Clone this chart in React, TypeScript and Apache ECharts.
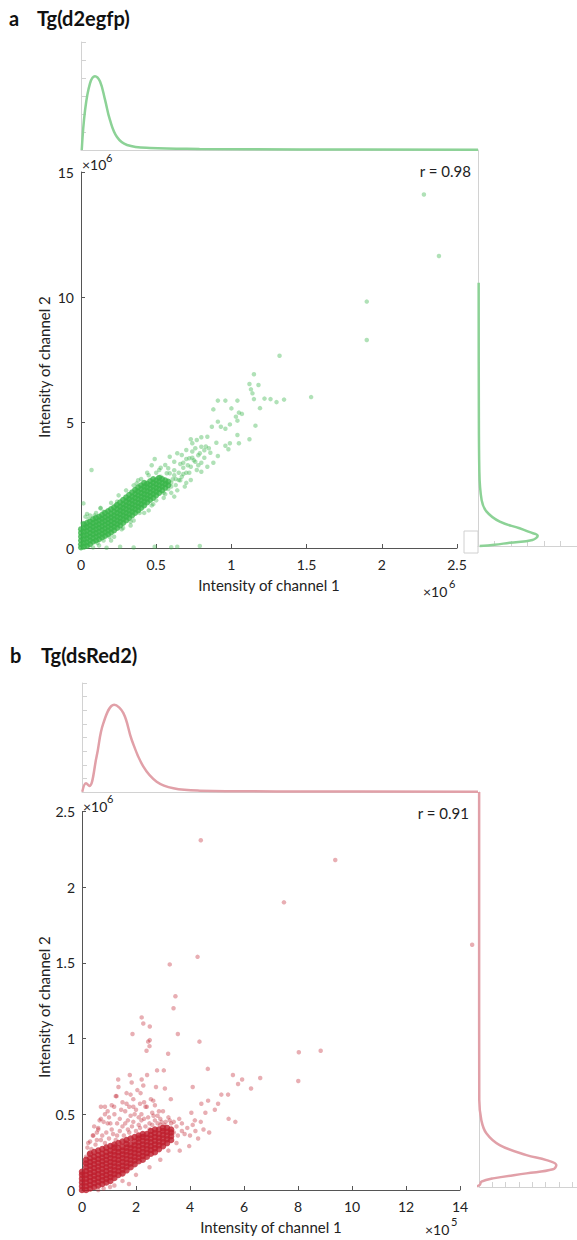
import React, { useEffect, useRef } from 'react';
import * as echarts from 'echarts';

// ---------- Panel a: Tg(d2egfp) ----------
const titleA = 'Tg(d2egfp)';
const rA = 'r = 0.98';
const xTicksA = [0, 0.5, 1, 1.5, 2, 2.5];
const yTicksA = [0, 5, 10, 15];
// top density (x in 1e6, density)
const greenTopDensity: number[][] = [
  [0.005, 0], [0.027, 2.2], [0.06, 3.7], [0.093, 4.1], [0.127, 3.8], [0.16, 2.8],
  [0.193, 1.67], [0.24, 0.72], [0.307, 0.28], [0.46, 0.11], [0.79, 0.06], [1.46, 0.03], [2.647, 0.01],
];
// right density (density, y in 1e6)
const greenRightDensity: number[][] = [
  [0.1, 0], [1.0, 0.05], [1.92, 0.13], [3.3, 0.24], [3.62, 0.41], [3.1, 0.56], [2.52, 0.71],
  [1.32, 0.97], [0.52, 1.37], [0.22, 1.83], [0.08, 3.03], [0.05, 5.8], [0.04, 10.5],
];
// dense core columns: [x, y-values]
const greenCoreCols: [number, number[]][] = [
  [0.0, [0.02, 0.15, 0.3, 0.45, 0.6, 0.75]],
  [0.02, [0.05, 0.2, 0.35, 0.5, 0.65, 0.8, 0.95]],
  [0.04, [0.08, 0.22, 0.38, 0.52, 0.68, 0.84, 1.0]],
  [0.06, [0.15, 0.3, 0.45, 0.6, 0.75, 0.9, 1.05]],
  [0.08, [0.25, 0.4, 0.55, 0.7, 0.85, 1.0, 1.15]],
  [0.1, [0.3, 0.45, 0.6, 0.75, 0.9, 1.05, 1.2]],
  [0.12, [0.35, 0.5, 0.65, 0.8, 0.95, 1.1, 1.25]],
  [0.14, [0.42, 0.57, 0.72, 0.87, 1.02, 1.17, 1.32]],
  [0.16, [0.48, 0.63, 0.78, 0.93, 1.08, 1.23, 1.4]],
  [0.18, [0.55, 0.7, 0.85, 1.0, 1.15, 1.3, 1.47]],
  [0.2, [0.62, 0.77, 0.92, 1.07, 1.22, 1.37, 1.55]],
  [0.22, [0.7, 0.85, 1.0, 1.15, 1.3, 1.45, 1.62]],
  [0.24, [0.8, 0.95, 1.1, 1.25, 1.4, 1.55, 1.72]],
  [0.26, [0.9, 1.05, 1.2, 1.35, 1.5, 1.65, 1.82]],
  [0.28, [1.0, 1.15, 1.3, 1.45, 1.6, 1.75, 1.92]],
  [0.3, [1.1, 1.25, 1.4, 1.55, 1.7, 1.85, 2.02]],
  [0.32, [1.2, 1.35, 1.5, 1.65, 1.8, 1.95, 2.12]],
  [0.34, [1.3, 1.45, 1.6, 1.75, 1.9, 2.05, 2.22]],
  [0.36, [1.4, 1.55, 1.7, 1.85, 2.0, 2.15, 2.32]],
  [0.38, [1.5, 1.65, 1.8, 1.95, 2.1, 2.25, 2.42]],
  [0.4, [1.6, 1.75, 1.9, 2.05, 2.2, 2.35, 2.5]],
  [0.42, [1.7, 1.85, 2.0, 2.15, 2.3, 2.45, 2.6]],
  [0.44, [1.82, 1.97, 2.12, 2.27, 2.42, 2.57]],
  [0.46, [1.92, 2.07, 2.22, 2.37, 2.52, 2.67]],
  [0.48, [2.0, 2.15, 2.3, 2.45, 2.6, 2.75]],
  [0.5, [2.1, 2.25, 2.4, 2.55, 2.7]],
  [0.52, [2.2, 2.35, 2.5, 2.65, 2.8]],
  [0.54, [2.3, 2.45, 2.6, 2.75]],
  [0.56, [2.4, 2.55, 2.7]],
  [0.58, [2.5, 2.65]],
];
const greenSpread: number[][] = [
  [2.28, 14.1], [2.38, 11.65], [1.9, 9.83], [1.9, 8.3], [1.32, 7.67], [1.15, 6.93], [1.12, 6.54],
  [1.18, 6.5], [1.13, 6.33], [1.14, 6.17], [1.15, 5.94], [1.22, 5.96], [1.26, 5.94], [1.3, 5.82],
  [1.35, 5.92], [1.53, 6.02], [1.19, 5.58], [1.16, 4.88], [1.12, 4.34], [1.04, 5.88], [0.96, 5.88],
  [0.91, 5.88], [0.88, 5.53], [1.0, 5.57], [1.05, 5.4], [1.07, 5.35], [1.03, 5.24], [1.04, 5.08],
  [0.99, 4.93], [0.93, 4.84], [0.91, 5.04], [0.87, 4.84], [0.96, 4.76], [1.04, 4.51], [1.05, 4.18],
  [0.99, 4.18], [0.96, 4.08], [0.98, 3.94], [0.91, 3.67], [0.88, 3.4], [0.85, 3.98], [0.8, 4.42],
  [0.77, 4.31], [0.73, 4.34], [0.74, 4.18], [0.84, 4.44], [0.8, 4.04], [0.76, 3.98], [0.79, 3.78],
  [0.84, 3.24], [0.8, 3.4], [0.76, 3.44], [0.7, 3.91], [0.67, 3.71], [0.72, 3.58], [0.68, 3.4],
  [0.73, 3.24], [0.77, 3.11], [0.8, 3.04], [0.7, 3.0], [0.67, 2.84], [0.73, 2.71], [0.65, 2.71],
  [0.63, 2.51], [0.69, 2.45], [0.62, 2.05], [0.58, 3.18], [0.62, 3.44], [0.59, 3.64], [0.64, 3.78],
  [0.57, 2.98], [0.53, 2.84], [0.56, 3.31], [0.52, 3.11], [0.59, 2.98], [0.61, 2.74],
  [0.07, 3.11], [0.016, 1.78], [0.04, 1.36], [0.13, 1.58], [0.24, 1.85], [0.37, 2.58], [0.49, 3.55],
  [0.49, 0.05], [0.64, 0.05], [0.79, 0.08], [0.26, 0.05], [0.17, 0.01],
  [0.1, 1.4], [0.13, 1.6], [0.2, 1.8], [0.25, 2.1], [0.3, 2.3], [0.35, 2.5], [0.4, 2.75], [0.45, 2.9],
  [0.5, 3.0], [0.15, 0.3], [0.22, 0.45], [0.28, 0.8], [0.35, 1.1], [0.42, 1.4], [0.48, 1.75],
  [0.55, 2.0], [0.6, 2.2], [0.12, 0.1], [0.08, 0.02], [0.2, 0.3], [0.03, 1.25], [0.06, 1.3],
  [0.01, 1.0], [0.33, 0.9], [0.45, 1.5], [0.5, 1.9], [0.56, 2.15], [0.6, 2.45], [0.64, 2.3],
  [0.57, 2.6], [0.62, 2.9], [0.53, 3.2], [0.47, 3.3], [0.44, 3.0], [0.38, 2.7], [0.7, 2.6],
  [0.68, 3.2], [0.72, 3.0], [0.66, 2.7], [0.75, 3.5], [0.82, 3.6], [0.86, 3.8], [0.9, 4.2],
  [0.78, 3.7], [0.74, 3.85], [0.83, 4.05],
  [0.03, 0.9], [0.05, 1.15], [0.09, 1.3], [0.11, 0.2], [0.15, 1.45], [0.19, 0.45], [0.23, 1.7],
  [0.27, 0.75], [0.31, 1.95], [0.33, 1.05], [0.37, 2.3], [0.39, 1.4], [0.43, 2.55], [0.47, 1.7],
  [0.51, 2.8], [0.55, 2.2], [0.6, 2.6], [0.63, 2.75], [0.58, 2.35], [0.65, 3.0], [0.68, 2.95],
  [0.71, 3.3], [0.62, 3.1], [0.66, 3.35], [0.7, 3.55], [0.74, 3.6], [0.78, 3.3], [0.82, 3.9],
  [0.6, 0.03], [0.35, 0.02],
];

// ---------- Panel b: Tg(dsRed2) ----------
const titleB = 'Tg(dsRed2)';
const rB = 'r = 0.91';
const xTicksB = [0, 2, 4, 6, 8, 10, 12, 14];
const yTicksB = [0, 0.5, 1, 1.5, 2, 2.5];
const redTopDensity: number[][] = [
  [0.01, 0.02], [0.15, 0.64], [0.27, 0.44], [0.54, 2.6], [0.79, 5.05], [1.19, 6.4], [1.53, 5.79],
  [1.84, 3.82], [2.27, 1.86], [2.76, 0.76], [3.38, 0.27], [4.36, 0.1], [8.06, 0.04], [14.64, 0.02],
];
const redRightDensity: number[][] = [
  [-0.4, 0.0], [0.05, 0.013], [0.18, 0.035], [1.05, 0.057], [3.56, 0.09], [5.55, 0.117], [5.8, 0.145],
  [5.06, 0.178], [3.56, 0.211], [1.55, 0.277], [0.55, 0.355], [0.18, 0.44], [0.02, 0.575],
  [0.01, 1.5], [0.01, 2.61],
];
const redCoreCols: [number, number[]][] = [
  [0.0, [0.0, 0.025, 0.05, 0.075, 0.1, 0.12]],
  [0.15, [0.0, 0.025, 0.05, 0.075, 0.1, 0.125, 0.15, 0.175, 0.2]],
  [0.3, [0.01, 0.035, 0.06, 0.085, 0.11, 0.135, 0.16, 0.185, 0.21, 0.24]],
  [0.45, [0.02, 0.045, 0.07, 0.095, 0.12, 0.145, 0.17, 0.195, 0.22, 0.25]],
  [0.6, [0.03, 0.055, 0.08, 0.105, 0.13, 0.155, 0.18, 0.205, 0.23, 0.26]],
  [0.75, [0.04, 0.065, 0.09, 0.115, 0.14, 0.165, 0.19, 0.215, 0.24, 0.27]],
  [0.9, [0.05, 0.075, 0.1, 0.125, 0.15, 0.175, 0.2, 0.225, 0.25, 0.28]],
  [1.05, [0.06, 0.085, 0.11, 0.135, 0.16, 0.185, 0.21, 0.235, 0.26, 0.29]],
  [1.2, [0.08, 0.105, 0.13, 0.155, 0.18, 0.205, 0.23, 0.255, 0.28, 0.3]],
  [1.35, [0.1, 0.125, 0.15, 0.175, 0.2, 0.225, 0.25, 0.275, 0.31]],
  [1.5, [0.11, 0.135, 0.16, 0.185, 0.21, 0.235, 0.26, 0.285, 0.32]],
  [1.65, [0.13, 0.155, 0.18, 0.205, 0.23, 0.255, 0.28, 0.305, 0.33]],
  [1.8, [0.15, 0.175, 0.2, 0.225, 0.25, 0.275, 0.3, 0.34]],
  [1.95, [0.17, 0.195, 0.22, 0.245, 0.27, 0.295, 0.32, 0.35]],
  [2.1, [0.19, 0.215, 0.24, 0.265, 0.29, 0.315, 0.34, 0.36]],
  [2.25, [0.2, 0.225, 0.25, 0.275, 0.3, 0.325, 0.35, 0.37]],
  [2.4, [0.22, 0.245, 0.27, 0.295, 0.32, 0.345, 0.37]],
  [2.55, [0.24, 0.265, 0.29, 0.315, 0.34, 0.365, 0.39]],
  [2.7, [0.25, 0.275, 0.3, 0.325, 0.35, 0.375, 0.4]],
  [2.85, [0.27, 0.295, 0.32, 0.345, 0.37, 0.4]],
  [3.0, [0.29, 0.315, 0.34, 0.365, 0.39, 0.41]],
  [3.15, [0.31, 0.335, 0.36, 0.385, 0.41]],
  [3.3, [0.33, 0.355, 0.38, 0.4]],
];
const redSpread: number[][] = [
  [14.45, 1.62], [4.4, 2.31], [9.38, 2.18], [7.48, 1.9], [4.28, 1.54], [3.25, 1.49], [3.46, 1.28],
  [3.39, 1.2], [2.21, 1.14], [2.27, 1.1], [2.51, 1.08], [1.87, 1.03], [3.55, 1.03], [2.51, 0.99],
  [2.45, 0.98], [4.35, 0.98], [2.5, 0.95], [2.39, 0.92], [3.19, 0.9], [8.03, 0.91], [8.84, 0.92],
  [8.01, 0.72], [4.66, 0.8], [2.78, 0.79], [3.03, 0.79], [6.6, 0.74], [5.93, 0.73], [5.59, 0.76],
  [5.78, 0.7], [6.26, 0.67], [1.34, 0.73], [1.77, 0.76], [2.21, 0.73], [2.41, 0.76], [2.27, 0.69],
  [1.84, 0.71], [2.74, 0.68], [3.07, 0.67], [4.1, 0.68], [1.28, 0.62], [1.8, 0.63], [2.17, 0.64],
  [2.64, 0.59], [3.29, 0.6], [0.85, 0.55], [1.19, 0.55], [1.65, 0.57], [1.9, 0.55], [2.35, 0.55],
  [5.16, 0.63], [5.41, 0.63], [5.04, 0.57], [4.67, 0.59], [4.42, 0.57], [5.43, 0.47], [5.68, 0.45],
  [4.71, 0.38], [4.3, 0.34], [3.97, 0.29], [3.62, 0.26], [4.18, 0.46], [4.57, 0.51], [4.05, 0.51],
  [4.92, 0.53], [0.7, 0.47], [0.6, 0.41], [0.95, 0.44], [0.23, 0.31], [0.42, 0.36], [1.74, 0.04],
  [1.04, 0.02],
  [0.5, 0.3], [0.7, 0.33], [0.9, 0.38], [1.1, 0.4], [1.3, 0.36], [1.5, 0.42], [1.7, 0.4], [1.9, 0.45],
  [2.1, 0.43], [2.3, 0.47], [2.5, 0.44], [2.7, 0.46], [2.9, 0.43], [3.1, 0.45], [3.3, 0.44],
  [3.5, 0.42], [3.7, 0.44], [3.9, 0.41], [4.1, 0.43], [4.4, 0.45], [0.8, 0.45], [1.0, 0.48],
  [1.2, 0.5], [1.4, 0.47], [1.6, 0.52], [1.8, 0.49], [2.0, 0.53], [2.2, 0.5], [2.4, 0.55],
  [2.6, 0.51], [2.8, 0.49], [1.1, 0.56], [1.5, 0.58], [1.9, 0.6], [2.3, 0.58], [2.7, 0.56],
  [3.0, 0.52], [0.6, 0.4], [0.4, 0.36], [0.3, 0.32], [1.3, 0.44], [1.7, 0.46], [2.1, 0.48],
  [2.5, 0.4], [2.9, 0.47], [3.2, 0.48], [3.6, 0.47], [0.95, 0.52], [1.25, 0.62], [1.65, 0.64],
  [2.05, 0.66], [0.2, 0.28], [0.15, 0.22], [0.1, 0.18], [3.4, 0.38], [3.8, 0.37], [4.0, 0.36],
  [4.5, 0.4], [4.2, 0.39], [0.6, 0.0], [1.2, 0.03], [2.5, 0.15], [2.9, 0.2], [3.5, 0.31],
  [3.2, 0.26], [0.8, 0.01], [1.5, 0.06], [2.0, 0.1],
  [0.35, 0.27], [0.55, 0.33], [0.75, 0.36], [0.85, 0.31], [1.0, 0.34], [1.15, 0.37], [1.25, 0.33],
  [1.4, 0.39], [1.55, 0.36], [1.6, 0.44], [1.75, 0.38], [1.85, 0.42], [2.0, 0.39], [2.15, 0.41],
  [2.2, 0.46], [2.35, 0.42], [2.45, 0.48], [2.6, 0.43], [2.65, 0.49], [2.8, 0.44], [2.95, 0.45],
  [3.05, 0.43], [3.25, 0.46], [3.4, 0.45], [3.55, 0.36], [3.7, 0.39], [0.45, 0.42], [0.65, 0.46],
  [0.85, 0.5], [1.05, 0.44], [1.45, 0.53], [1.75, 0.55], [2.15, 0.57], [2.55, 0.6], [1.35, 0.68],
  [0.7, 0.55], [0.25, 0.24], [0.55, 0.38], [1.95, 0.5], [2.85, 0.52],
];

const axisName = 'Intensity of channel 1';
const axisName2 = 'Intensity of channel 2';

const flatten = (cols: [number, number[]][]) => {
  const out: number[][] = [];
  cols.forEach(([x, ys]) => ys.forEach((y) => out.push([x, y])));
  return out;
};

const FONT = 'Lato';
const light = '#d2d2d2';
const dark = '#555';

const lightAxis = (min: number, max: number, interval: number | undefined, ticks: boolean) => ({
  type: 'value', min, max, interval,
  axisLine: { show: true, onZero: false, lineStyle: { color: light, width: 1 } },
  axisTick: { show: ticks, inside: true, length: 5, lineStyle: { color: light } },
  axisLabel: { show: false },
  splitLine: { show: false },
});

const darkAxis = (gridIndex: number, min: number, max: number, interval: number, name: string, isX: boolean) => ({
  gridIndex, type: 'value', min, max, interval,
  name: isX ? name : '',
  nameLocation: 'middle',
  nameGap: 29,
  nameTextStyle: { fontFamily: FONT, fontSize: 15, color: '#222' },
  axisLine: { show: true, onZero: false, lineStyle: { color: dark, width: 1 } },
  axisTick: { show: true, inside: true, length: 4, lineStyle: { color: dark } },
  axisLabel: { fontFamily: FONT, fontSize: 14, color: '#222', margin: isX ? 9 : 7 },
  splitLine: { show: false },
});

const txt = (text: string, x: number, y: number, size: number, opts: any = {}) => ({
  type: 'text', x, y, silent: true, ...opts.el,
  style: { text, fontFamily: FONT, fontSize: size, fill: '#222', align: 'left', verticalAlign: 'middle', ...opts.style },
});

export default function App() {
  const ref = useRef<HTMLDivElement>(null);
  useEffect(() => {
    document.body.style.margin = '0';
    const chart = echarts.init(ref.current!, null, { renderer: 'svg' });
    const greenPt = 'rgba(57,181,74,0.5)';
    const greenCore = 'rgb(58,181,74)';
    const greenLine = 'rgba(140,210,150,1)';
    const redPt = 'rgba(190,30,45,0.45)';
    const redCore = 'rgb(190,30,45)';
    const redLine = 'rgba(225,160,168,1)';
    const bold = { style: { fontWeight: 'bold', fill: '#111' } };

    const option: any = {
      animation: false,
      textStyle: { fontFamily: FONT },
      grid: [
        { left: 81, top: 42, width: 397, height: 108 },
        { left: 81, top: 172, width: 376, height: 376 },
        { left: 478, top: 150, width: 99, height: 396 },
        { left: 82, top: 683, width: 396, height: 109 },
        { left: 82, top: 811.5, width: 378, height: 378.5 },
        { left: 479, top: 792, width: 98, height: 395 },
      ],
      xAxis: [
        { gridIndex: 0, ...lightAxis(0, 2.647, undefined, false) },
        darkAxis(1, xTicksA[0], xTicksA[xTicksA.length - 1], 0.5, axisName, true),
        { gridIndex: 2, ...lightAxis(0, 6, 1, true) },
        { gridIndex: 3, ...lightAxis(0, 14.64, undefined, false) },
        darkAxis(4, xTicksB[0], xTicksB[xTicksB.length - 1], 2, axisName, true),
        { gridIndex: 5, ...lightAxis(0, 7.35, 1, true) },
      ],
      yAxis: [
        { gridIndex: 0, ...lightAxis(0, 6, 1, true) },
        darkAxis(1, yTicksA[0], yTicksA[yTicksA.length - 1], 5, axisName2, false),
        { gridIndex: 2, ...lightAxis(0, 15.8, undefined, false) },
        { gridIndex: 3, ...lightAxis(0, 8, 1, true) },
        darkAxis(4, yTicksB[0], yTicksB[yTicksB.length - 1], 0.5, axisName2, false),
        { gridIndex: 5, ...lightAxis(0, 2.61, undefined, false) },
      ],
      series: [
        { type: 'line', xAxisIndex: 0, yAxisIndex: 0, data: greenTopDensity, smooth: 0.4, showSymbol: false, symbol: 'none', lineStyle: { color: greenLine, width: 2.5 }, clip: false, z: 5 },
        { type: 'scatter', xAxisIndex: 1, yAxisIndex: 1, data: greenSpread, symbolSize: 4.5, itemStyle: { color: greenPt }, clip: false },
        { type: 'scatter', xAxisIndex: 1, yAxisIndex: 1, data: flatten(greenCoreCols), symbolSize: 6, itemStyle: { color: greenCore }, clip: false },
        { type: 'line', xAxisIndex: 2, yAxisIndex: 2, data: greenRightDensity, smooth: 0.4, showSymbol: false, symbol: 'none', lineStyle: { color: greenLine, width: 2.5 }, clip: false, z: 5 },
        { type: 'line', xAxisIndex: 3, yAxisIndex: 3, data: redTopDensity, smooth: 0.4, showSymbol: false, symbol: 'none', lineStyle: { color: redLine, width: 2.5 }, clip: false, z: 5 },
        { type: 'scatter', xAxisIndex: 4, yAxisIndex: 4, data: redSpread, symbolSize: 4.5, itemStyle: { color: redPt }, clip: false },
        { type: 'scatter', xAxisIndex: 4, yAxisIndex: 4, data: flatten(redCoreCols), symbolSize: 6.5, itemStyle: { color: redCore }, clip: false },
        { type: 'line', xAxisIndex: 5, yAxisIndex: 5, data: redRightDensity, smooth: 0.4, showSymbol: false, symbol: 'none', lineStyle: { color: redLine, width: 2.5 }, clip: false, z: 5 },
      ],
      graphic: [
        txt('a', 9, 18, 20, bold),
        txt(titleA, 37, 18, 20, bold),
        txt('b', 10, 655, 20, bold),
        txt(titleB, 41, 655, 20, bold),
        txt(rA, 471, 171, 15, { style: { align: 'right' } }),
        txt(rB, 469, 813, 15, { style: { align: 'right' } }),
        txt('×10', 82, 164, 14),
        txt('6', 106, 157, 11),
        txt('×10', 423, 591, 14),
        txt('6', 449, 583, 11),
        txt('×10', 83, 806, 14),
        txt('6', 107, 798, 11),
        txt('×10', 425, 1229, 14),
        txt('5', 451, 1221, 11),
        txt(axisName2, 44, 367, 15, { el: { rotation: Math.PI / 2 }, style: { align: 'center' } }),
        txt(axisName2, 44, 1007, 15, { el: { rotation: Math.PI / 2 }, style: { align: 'center' } }),
        { type: 'rect', shape: { x: 464, y: 531, width: 14, height: 22 }, style: { fill: '#fff', stroke: '#d0d0d0', lineWidth: 1 }, silent: true },
      ],
    };
    chart.setOption(option);
    return () => chart.dispose();
  }, []);
  return <div ref={ref} style={{ width: 577, height: 1240 }} />;
}
